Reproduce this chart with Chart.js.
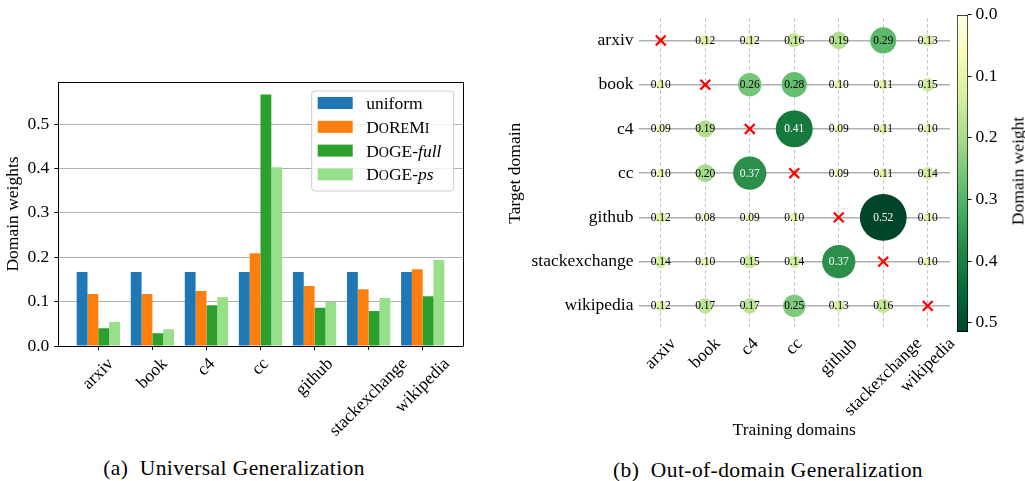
<!DOCTYPE html>
<html><head><meta charset="utf-8">
<script src="https://cdn.jsdelivr.net/npm/chart.js@4.4.1/dist/chart.umd.min.js"></script>
<style>
html,body{margin:0;padding:0;background:#fff;width:1025px;height:481px;overflow:hidden;position:relative;font-family:"Liberation Serif","Times New Roman",serif;color:#000;}
canvas{position:absolute;top:0;}
#c1{left:0;} #c2{left:500px;} #c3{left:945px;}
.cap{position:absolute;font-size:21.5px;white-space:nowrap;transform:translate(-50%,-50%);letter-spacing:0.4px;}
#cbt{position:absolute;left:1018px;top:171px;transform:translate(-50%,-50%) rotate(-90deg);font-size:17.5px;white-space:nowrap;}
</style></head><body>
<canvas id="c1" width="500" height="445"></canvas>
<canvas id="c2" width="455" height="445"></canvas>
<canvas id="c3" width="80" height="445"></canvas>
<div class="cap" style="left:234px;top:468px">(a)&nbsp;&nbsp;Universal Generalization</div>
<div class="cap" style="left:768px;top:470px">(b)&nbsp;&nbsp;Out-of-domain Generalization</div>
<div id="cbt">Domain weight</div>
<script>
// ---------- data ----------
const domains = ['arxiv','book','c4','cc','github','stackexchange','wikipedia'];
const uniform  = [0.167,0.167,0.167,0.167,0.167,0.167,0.167];
const doremi   = [0.117,0.117,0.124,0.209,0.135,0.128,0.173];
const dogeFull = [0.040,0.029,0.092,0.567,0.086,0.079,0.112];
const dogePs   = [0.054,0.038,0.110,0.403,0.100,0.108,0.194];
const weightTicks = [0,0.1,0.2,0.3,0.4,0.5];
const colorbarTicks = [0,0.1,0.2,0.3,0.4,0.5];
const colorbarMax = 0.515;
// out-of-domain weights: rows = target domain, columns = training domain (null = same domain)
const oodArxiv         = [null,0.12,0.12,0.16,0.19,0.29,0.13];
const oodBook          = [0.10,null,0.26,0.28,0.10,0.11,0.15];
const oodC4            = [0.09,0.19,null,0.41,0.09,0.11,0.10];
const oodCc            = [0.10,0.20,0.37,null,0.09,0.11,0.14];
const oodGithub        = [0.12,0.08,0.09,0.10,null,0.52,0.10];
const oodStackexchange = [0.14,0.10,0.15,0.14,0.37,null,0.10];
const oodWikipedia     = [0.12,0.17,0.17,0.25,0.13,0.16,null];

// ---------- styling helpers ----------
const serif = '"Liberation Serif","Times New Roman",serif';
const FS = 17.5;
const font = {family: serif, size: FS};
const fixW = w => s => { s.width = w; };
const fixH = h => s => { s.height = h; };
const setTicks = vals => s => { s.ticks = vals.map(v => ({value: v})); };
const idxTicks = domains.map((d, i) => i);

const YLGN = ['#ffffe5','#f7fcb9','#d9f0a3','#addd8e','#78c679','#41ab5d','#238443','#006837','#004529'];
function hex2rgb(h){ return [parseInt(h.slice(1,3),16),parseInt(h.slice(3,5),16),parseInt(h.slice(5,7),16)]; }
function ylgn(t){
  t = Math.max(0, Math.min(1, t));
  const p = t * 8, i = Math.min(7, Math.floor(p)), f = p - i;
  const a = hex2rgb(YLGN[i]), b = hex2rgb(YLGN[i+1]);
  return 'rgb(' + a.map((v, k) => Math.round(v + (b[k]-v)*f)).join(',') + ')';
}

const xLabelPlugin = (gap) => ({
  id: 'rotLabels',
  afterDraw(chart){
    const {ctx, chartArea, scales: {x}} = chart;
    ctx.save();
    ctx.font = FS + 'px ' + serif; ctx.fillStyle = '#000';
    ctx.textAlign = 'center'; ctx.textBaseline = 'middle';
    domains.forEach((d, i) => {
      const px = x.getPixelForValue(i);
      const w = ctx.measureText(d).width, h = FS * 0.7;
      const cy = chartArea.bottom + gap + (w + h) / (2 * Math.SQRT2);
      ctx.save(); ctx.translate(px, cy); ctx.rotate(-Math.PI/4); ctx.fillText(d, 0, 0); ctx.restore();
    });
    ctx.restore();
  }
});

const framePlugin = {
  id: 'frame',
  afterDraw(chart){
    const {ctx, chartArea: a} = chart;
    ctx.save(); ctx.strokeStyle = '#000'; ctx.lineWidth = 1;
    ctx.beginPath();
    ctx.moveTo(Math.round(a.left)+0.5, Math.round(a.top)+0.5);
    ctx.lineTo(Math.round(a.right)+0.5, Math.round(a.top)+0.5);
    ctx.lineTo(Math.round(a.right)+0.5, Math.round(a.bottom)+0.5);
    ctx.stroke(); ctx.restore();
  }
};

const legendParts = [
  [['uniform', 1, false]],
  [['D',1,false],['O',0.8,false],['R',1,false],['E',0.8,false],['M',1,false],['I',0.8,false]],
  [['D',1,false],['O',0.8,false],['GE-',1,false],['full',1,true]],
  [['D',1,false],['O',0.8,false],['GE-',1,false],['ps',1,true]]
];
const legendPlugin = {
  id: 'insideLegend',
  afterDraw(chart){
    const {ctx, chartArea: a} = chart;
    const L = a.right - 151.5, T = a.top + 8.5, W = 142, H = 100, r = 3;
    ctx.save();
    ctx.beginPath(); ctx.roundRect(L + 0.5, T + 0.5, W, H, r);
    ctx.fillStyle = 'rgba(255,255,255,0.8)'; ctx.fill();
    ctx.strokeStyle = '#cccccc'; ctx.lineWidth = 1; ctx.stroke();
    const rowsY = [12.5, 36.3, 60.1, 83.9];
    chart.data.datasets.forEach((ds, i) => {
      const cy = T + rowsY[i];
      ctx.fillStyle = ds.backgroundColor;
      ctx.fillRect(L + 6.5, cy - 6, 35, 12);
      let tx = L + 55;
      ctx.fillStyle = '#000'; ctx.textBaseline = 'alphabetic'; ctx.textAlign = 'left';
      legendParts[i].forEach(([s, k, it]) => {
        ctx.font = (it ? 'italic ' : '') + (FS * k) + 'px ' + serif;
        ctx.fillText(s, tx, cy + 6);
        tx += ctx.measureText(s).width;
      });
    });
    ctx.restore();
  }
};

// ---------- chart (a) ----------
const barSeries = [
  ['uniform', uniform, '#1f77b4'],
  ['DoReMi', doremi, '#ff7f0e'],
  ['DoGE-full', dogeFull, '#2ca02c'],
  ['DoGE-ps', dogePs, '#98df8a']
];
new Chart(document.getElementById('c1'), {
  type: 'bar',
  data: { datasets: barSeries.map(([label, vals, color]) => ({
    label, backgroundColor: color, borderWidth: 0,
    categoryPercentage: 0.8, barPercentage: 1,
    data: domains.map((d, i) => ({x: i, y: vals[i]}))
  }))},
  options: {
    responsive: false, animation: false,
    layout: {autoPadding: false, padding: {left: 0, top: 82, right: 37.3, bottom: 0}},
    plugins: {legend: {display: false}, tooltip: {enabled: false}},
    scales: {
      x: {type: 'linear', offset: false, min: -0.74, max: 6.74, afterBuildTicks: setTicks(idxTicks), afterFit: fixH(99),
          ticks: {display: false},
          grid: {display: true, offset: false, drawOnChartArea: false, drawTicks: true, tickLength: 4, tickColor: '#000', tickWidth: 1},
          border: {display: true, color: '#000', width: 1}},
      y: {type: 'linear', min: 0, max: 0.595, afterBuildTicks: setTicks(weightTicks), afterFit: fixW(58.3),
          ticks: {font, color: '#000', padding: 5, callback: v => v.toFixed(1)},
          grid: {color: '#b0b0b0', lineWidth: 1, tickColor: '#000', tickLength: 4, tickWidth: 1},
          border: {display: true, color: '#000', width: 1},
          title: {display: true, text: 'Domain weights', font, color: '#000', padding: {top: 2.5, bottom: 0}}}
    }
  },
  plugins: [framePlugin, legendPlugin, xLabelPlugin(11)]
});

// ---------- chart (b) ----------
const oodRows = [oodArxiv, oodBook, oodC4, oodCc, oodGithub, oodStackexchange, oodWikipedia];
const bubbles = [];
oodRows.forEach((row, r) => row.forEach((v, c) => { if (v !== null) bubbles.push({x: c, y: r, v}); }));
const sameDomain = domains.map((d, i) => ({x: i, y: i}));

const bubbleLabelPlugin = {
  id: 'bubbleLabels',
  afterDatasetsDraw(chart){
    const {ctx} = chart;
    const meta = chart.getDatasetMeta(0);
    ctx.save();
    ctx.font = '11.5px ' + serif; ctx.textAlign = 'center'; ctx.textBaseline = 'middle';
    meta.data.forEach((el, i) => {
      const v = bubbles[i].v;
      ctx.fillStyle = v > 0.3 ? '#ffffff' : '#000000';
      ctx.fillText(v.toFixed(2), el.x, el.y + 0.5);
    });
    ctx.restore();
  }
};

new Chart(document.getElementById('c2'), {
  type: 'bubble',
  data: { datasets: [
    {label: 'Domain weight', data: bubbles, borderWidth: 0,
     backgroundColor: ctx => ylgn((ctx.raw ? ctx.raw.v : 0) / colorbarMax),
     radius: ctx => (ctx.raw ? ctx.raw.v : 0) * 45, hoverRadius: 0},
    {label: 'same domain', data: sameDomain, pointStyle: 'crossRot', radius: 7,
     borderColor: '#ff0000', backgroundColor: '#ff0000', borderWidth: 2.2, hoverRadius: 0}
  ]},
  options: {
    responsive: false, animation: false,
    layout: {autoPadding: false, padding: {left: 0, top: 18.3, right: 5, bottom: 0}},
    plugins: {legend: {display: false}, tooltip: {enabled: false}},
    scales: {
      x: {type: 'linear', min: -0.5, max: 6.5, afterBuildTicks: setTicks(idxTicks), afterFit: fixH(117),
          ticks: {display: false},
          grid: {color: '#bdbdbd', lineWidth: 1, drawTicks: false},
          border: {display: false, dash: [3, 3]},
          title: {display: true, text: 'Training domains', font, color: '#000', padding: {top: 0, bottom: 4.5}}},
      y: {type: 'linear', reverse: true, min: -0.5, max: 6.5, afterBuildTicks: setTicks(idxTicks), afterFit: fixW(138.5),
          ticks: {font, color: '#000', padding: 5, callback: v => domains[v]},
          grid: {color: '#b0b0b0', lineWidth: 1.5, drawTicks: false},
          border: {display: false},
          title: {display: true, text: 'Target domain', font, color: '#000', padding: {top: 4.5, bottom: 0}}}
    }
  },
  plugins: [bubbleLabelPlugin, xLabelPlugin(8.7)]
});

// ---------- colour bar ----------
new Chart(document.getElementById('c3'), {
  type: 'bar',
  data: { labels: [''], datasets: [{
    label: 'colour scale', data: [colorbarMax],
    backgroundColor: ctx => {
      const a = ctx.chart.chartArea;
      if (!a) return YLGN[4];
      const g = ctx.chart.ctx.createLinearGradient(0, a.top, 0, a.bottom);
      YLGN.forEach((c, i) => g.addColorStop(i / 8, c));
      return g;
    },
    borderColor: '#000', borderWidth: 1, borderSkipped: false,
    barPercentage: 1, categoryPercentage: 1
  }]},
  options: {
    responsive: false, animation: false,
    layout: {autoPadding: false, padding: {left: 12, top: 11, right: 0, bottom: 113}},
    plugins: {legend: {display: false}, tooltip: {enabled: false}},
    scales: {
      x: {display: false},
      y: {position: 'right', reverse: true, min: 0, max: colorbarMax, afterBuildTicks: setTicks(colorbarTicks), afterFit: fixW(57),
          ticks: {font, color: '#000', padding: 4, callback: v => v.toFixed(1)},
          grid: {drawOnChartArea: false, drawTicks: true, tickLength: 3.5, tickColor: '#000', tickWidth: 1},
          border: {display: false}}
    }
  }
});
</script>
</body></html>
